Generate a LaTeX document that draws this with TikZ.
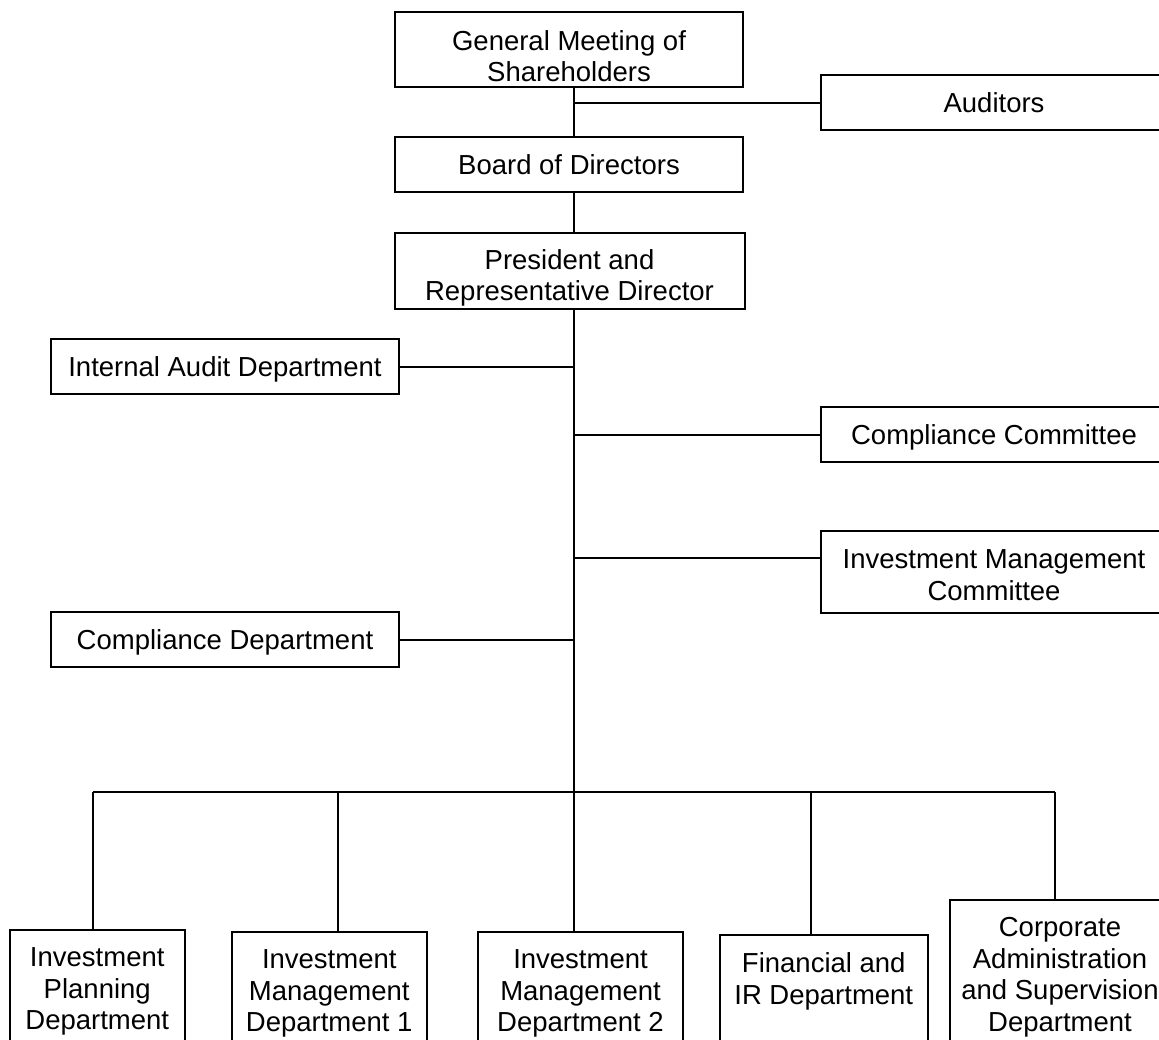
\documentclass[tikz,border=0pt]{standalone}
\usepackage{fontspec}
\setmainfont{Liberation Sans}
\begin{document}
\begin{tikzpicture}[x=0.5pt,y=-0.5pt,
  every node/.style={font=\fontsize{13.75pt}{15.75pt}\selectfont},
  orgbox/.style={draw, line width=1pt, inner sep=0pt, align=center},
  onebox/.style={orgbox, minimum height=27.5pt, text height=10pt, text depth=0pt},
  footbox/.style={orgbox, anchor=north, inner xsep=0pt, inner ysep=8.8pt, text depth=60pt},
  link/.style={line width=1pt}]
\clip (0,0) rectangle (1159,1039);

% upper chain
\node[orgbox, minimum width=174pt, minimum height=37.5pt] (gm) at (569,49.5)
  {\rule{0pt}{16.8pt}General Meeting of\\Shareholders};
\node[onebox, minimum width=174pt] (board) at (569,164.5) {Board of Directors};
\node[orgbox, minimum width=175pt, minimum height=38pt] (pres) at (569.5,271)
  {\rule{0pt}{16.9pt}President and\\Representative Director};

% side units
\node[onebox, minimum width=173pt] (aud) at (994,102.5) {Auditors};
\node[onebox, minimum width=174pt] (iad) at (225,366.5) {Internal Audit Department};
\node[onebox, minimum width=173pt] (cc) at (994,434.5) {Compliance Committee};
\node[orgbox, minimum width=173pt, minimum height=41pt] (imc) at (994,571.5)
  {\rule{0pt}{13.3pt}Investment Management\\Committee};
\node[onebox, minimum width=174pt] (cd) at (225,639.5) {Compliance Department};

% departments
\node[footbox, minimum width=87.25pt] (ipd) at (97.25,929)
  {Investment\\Planning\\Department};
\node[footbox, minimum width=97.75pt] (imd1) at (329.25,931)
  {Investment\\Management\\Department 1};
\node[footbox, minimum width=102.5pt] (imd2) at (580.5,931)
  {Investment\\Management\\Department 2};
\node[footbox, minimum width=103.75pt] (fir) at (823.75,934)
  {Financial and\\IR Department};
\node[footbox, minimum width=110pt] (cas) at (1060,899)
  {Corporate\\Administration\\and Supervision\\Department};

% trunk and branch points
\coordinate (tr) at (574,0);
\coordinate (imcj) at (574,558);
\coordinate (d1) at (93,792);
\coordinate (d2) at (338,792);
\coordinate (d3) at (574,792);
\coordinate (d4) at (810.5,792);
\coordinate (d5) at (1055,792);

\draw[link] (gm.south -| tr) -- (board.north -| tr);
\draw[link] (tr |- aud.west) -- (aud.west);
\draw[link] (board.south -| tr) -- (pres.north -| tr);
\draw[link] (pres.south -| tr) -- (d3);
\draw[link] (iad.east) -- (iad.east -| tr);
\draw[link] (cc.west -| tr) -- (cc.west);
\draw[link] (imcj) -- (imcj -| imc.west);
\draw[link] (cd.east) -- (cd.east -| tr);

% department bus
\draw[link] (d1) -- (d5);
\draw[link] (d1) -- (d1 |- ipd.north);
\draw[link] (d2) -- (d2 |- imd1.north);
\draw[link] (d3) -- (d3 |- imd2.north);
\draw[link] (d4) -- (d4 |- fir.north);
\draw[link] (d5) -- (d5 |- cas.north);
\end{tikzpicture}
\end{document}
